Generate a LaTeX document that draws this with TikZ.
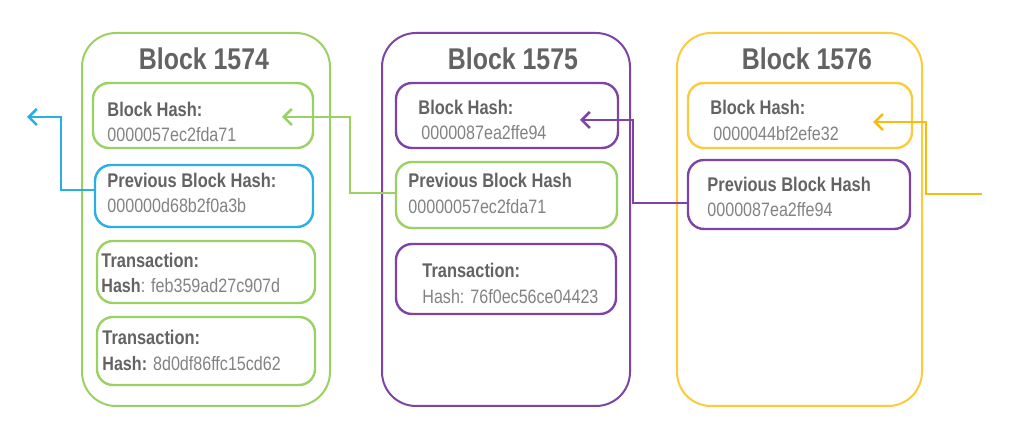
\documentclass[tikz,border=0pt]{standalone}
\usepackage{fontspec}
\setmainfont{Liberation Sans}[FakeStretch=0.83]
\usetikzlibrary{fit,arrows.meta}
\definecolor{cgreen}{HTML}{9AD163}
\definecolor{cblue}{HTML}{2AAEE6}
\definecolor{cpurple}{HTML}{7D44A6}
\definecolor{cyellow}{HTML}{FCCB3C}
\definecolor{cyarrow}{HTML}{F7BC0F}
\definecolor{tdark}{HTML}{636363}
\definecolor{tlight}{HTML}{828282}
\tikzset{
  outerbox/.style={draw=#1, line width=1pt, rounded corners=17pt, inner sep=0pt},
  innerbox/.style={draw=#1, line width=1.2pt, rounded corners=8pt, inner sep=0pt},
  ttl/.style={anchor=base, text=tdark, font=\fontsize{15}{17}\selectfont\bfseries, inner sep=0pt},
  lbl/.style={anchor=base west, text=tdark, font=\fontsize{9.9}{12}\selectfont\bfseries, inner sep=0pt},
  hsh/.style={anchor=base west, text=tlight, font=\fontsize{9.7}{12}\selectfont, inner sep=0pt},
  link/.style={draw=#1, line width=1.3pt, -{Straight Barb[length=4pt,width=8pt,line width=1.3pt]}},
}
\begin{document}
\begin{tikzpicture}[x=0.5pt,y=-0.5pt]
\useasboundingbox (0,0) rectangle (1024,432);
% ---------- Block 1574 ----------
\node[outerbox=cgreen, fit={(82,33) (330,406)}] (o1) {};
\node[ttl] (t1) at (204,70) {Block 1574};
\node[innerbox=cgreen, fit={(93,83) (313,148)}] (h1) {};
\node[lbl] (h1a) at (107,117) {Block Hash:};
\node[hsh] (h1b) at (107,142) {0000057ec2fda71};
\node[innerbox=cblue, fit={(95,165) (313,227)}] (p1) {};
\node[lbl] (p1a) at (107,188) {Previous Block Hash:};
\node[hsh] (p1b) at (107,213) {000000d68b2f0a3b};
\node[innerbox=cgreen, fit={(97,241) (315,303)}] (x1) {};
\node[lbl] (x1a) at (101,268) {Transaction:};
\node[hsh] (x1b) at (101,293) {\textcolor{tdark}{\bfseries Hash}: feb359ad27c907d};
\node[innerbox=cgreen, fit={(97,317) (315,385)}] (y1) {};
\node[lbl] (y1a) at (102,345) {Transaction:};
\node[hsh] (y1b) at (102,371) {\textcolor{tdark}{\bfseries Hash:} 8d0df86ffc15cd62};
% ---------- Block 1575 ----------
\node[outerbox=cpurple, fit={(382,33) (630,406)}] (o2) {};
\node[ttl] (t2) at (513,70) {Block 1575};
\node[innerbox=cpurple, fit={(396,83) (618,148)}] (h2) {};
\node[lbl] (h2a) at (418,115) {Block Hash:};
\node[hsh] (h2b) at (421,140) {0000087ea2ffe94};
\node[innerbox=cgreen, fit={(396,162) (617,228)}] (p2) {};
\node[lbl] (p2a) at (408,188) {Previous Block Hash};
\node[hsh] (p2b) at (408,214) {00000057ec2fda71};
\node[innerbox=cpurple, fit={(396,244) (616,314)}] (x2) {};
\node[lbl] (x2a) at (422,278) {Transaction:};
\node[hsh] (x2b) at (422,304) {Hash: 76f0ec56ce04423};
% ---------- Block 1576 ----------
\node[outerbox=cyellow, fit={(677,33) (922,406)}] (o3) {};
\node[ttl] (t3) at (807,70) {Block 1576};
\node[innerbox=cyellow, fit={(688,83) (912,148)}] (h3) {};
\node[lbl] (h3a) at (710,115) {Block Hash:};
\node[hsh] (h3b) at (713,141) {0000044bf2efe32};
\node[innerbox=cpurple, fit={(688,160) (910,229)}] (p3) {};
\node[lbl] (p3a) at (707,192) {Previous Block Hash};
\node[hsh] (p3b) at (707,217) {0000087ea2ffe94};
% ---------- links ----------
\coordinate (e0) at (27,117);
\coordinate (e1) at (282,117);
\coordinate (e2) at (580,120);
\coordinate (e3) at (873,122);
\coordinate (s4) at (982,194);
\draw[link=cblue] (p1.west |- 0,190) -- (61,190) |- (e0);
\draw[link=cgreen] (p2.west |- 0,193) -- (350,193) |- (e1);
\draw[link=cpurple] (p3.west |- 0,203) -- (633,203) |- (e2);
\draw[link=cyarrow] (s4) -- (926,194) |- (e3);
\end{tikzpicture}
\end{document}
